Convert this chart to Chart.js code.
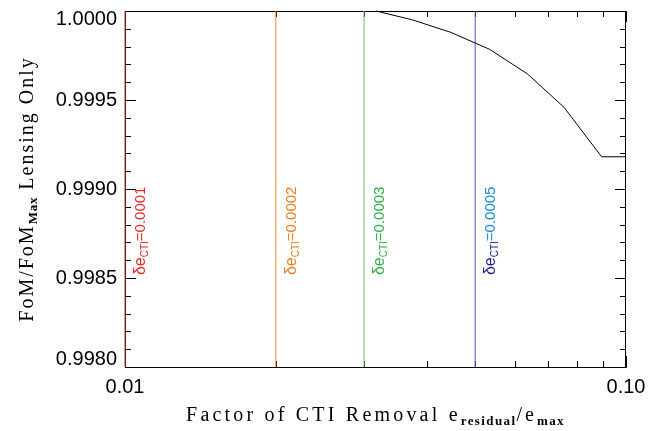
<!DOCTYPE html>
<html><head><meta charset="utf-8">
<script src="https://cdn.jsdelivr.net/npm/chart.js@4/dist/chart.umd.min.js"></script>
<style>html,body{margin:0;padding:0;background:#fff}#wrap{width:656px;height:431px}</style>
</head><body><div id="wrap"><canvas id="c" width="656" height="431"></canvas></div>
<script>
// ---- data ----
const curveX = [0.0317, 0.0375, 0.0447, 0.0534, 0.0636, 0.0752, 0.0894, 0.1000];
const curveY = [1.00000, 0.99995, 0.99988, 0.999785, 0.999646, 0.999459, 0.999181, 0.999181];
const ctiX = [0.01, 0.02, 0.03, 0.05];
const ctiValues = ['0.0001', '0.0002', '0.0003', '0.0005'];
const xRange = [0.01, 0.10];
const yRange = [0.9980, 1.0000];
const xTickValues = [0.01, 0.02, 0.03, 0.04, 0.05, 0.06, 0.07, 0.08, 0.09, 0.10];
const xTickLabels = ['0.01', '', '', '', '', '', '', '', '', '0.10'];
const yTickValues = [0.9980, 0.9981, 0.9982, 0.9983, 0.9984, 0.9985, 0.9986, 0.9987, 0.9988, 0.9989,
                     0.9990, 0.9991, 0.9992, 0.9993, 0.9994, 0.9995, 0.9996, 0.9997, 0.9998, 0.9999, 1.0000];
const yTickLabels = ['0.9980', '', '', '', '', '0.9985', '', '', '', '',
                     '0.9990', '', '', '', '', '0.9995', '', '', '', '', '1.0000'];

// ---- styles ----
const ctiLineColors = ['#c23b3b', '#f0892e', '#6cc272', '#5656c4'];
const ctiNameColors = ['#e42a2a', '#f07c22', '#2fae4a', '#1c1c8e'];
const ctiValueColors = ['#e42a2a', '#f07c22', '#2fae4a', '#1a8ad6'];
const serif = '"Liberation Serif", "DejaVu Serif", serif';
const sans = '"Liberation Sans", Arial, sans-serif';

function richWidth(ctx, parts) {
  let w = 0;
  for (const p of parts) { ctx.font = p.font; ctx.letterSpacing = p.ls || '0px'; w += ctx.measureText(p.text).width; }
  ctx.letterSpacing = '0px';
  return w;
}
function drawRich(ctx, parts, x, y) {
  let cx = x;
  for (const p of parts) {
    ctx.font = p.font; ctx.fillStyle = p.color; ctx.letterSpacing = p.ls || '0px';
    ctx.fillText(p.text, cx, y + (p.dy || 0));
    cx += ctx.measureText(p.text).width;
  }
  ctx.letterSpacing = '0px';
}

const framePlugin = {
  id: 'frame',
  beforeDatasetsDraw(chart) {
    const ctx = chart.ctx, a = chart.chartArea;
    const xs = chart.scales.x, ys = chart.scales.y;
    ctx.save();
    ctx.strokeStyle = '#000'; ctx.lineWidth = 1;
    ctx.beginPath();
    ctx.moveTo(a.left, a.top + 0.5); ctx.lineTo(a.right, a.top + 0.5);
    ctx.moveTo(a.right - 0.5, a.top); ctx.lineTo(a.right - 0.5, a.bottom);
    ctx.stroke();
    ctx.beginPath();
    yTickValues.forEach((v, i) => {
      const p = Math.round(ys.getPixelForValue(v)) + 0.5;
      const len = yTickLabels[i] ? 11 : 6;
      ctx.moveTo(a.left, p); ctx.lineTo(a.left + len, p);
      ctx.moveTo(a.right, p); ctx.lineTo(a.right - len, p);
    });
    xTickValues.forEach((v, i) => {
      const p = Math.round(xs.getPixelForValue(v)) + 0.5;
      const len = xTickLabels[i] ? 11 : 6;
      ctx.moveTo(p, a.bottom); ctx.lineTo(p, a.bottom - len);
      ctx.moveTo(p, a.top); ctx.lineTo(p, a.top + len);
    });
    ctx.stroke();
    ctx.restore();
  },
  afterDraw(chart) {
    const ctx = chart.ctx, a = chart.chartArea;
    const xs = chart.scales.x, ys = chart.scales.y;
    ctx.save();
    ctx.textBaseline = 'alphabetic'; ctx.textAlign = 'left';
    // vertical line labels
    ctiX.forEach((v, i) => {
      const px = xs.getPixelForValue(v);
      const parts = [
        { text: 'δe', font: '16px ' + sans, color: ctiNameColors[i] },
        { text: 'CTI', font: '10px ' + sans, color: ctiNameColors[i], dy: 3 },
        { text: '=' + ctiValues[i], font: '15px ' + sans, color: ctiValueColors[i] }
      ];
      ctx.save();
      ctx.translate(px + 20, ys.getPixelForValue(0.99855) + 6);
      ctx.rotate(-Math.PI / 2);
      drawRich(ctx, parts, 0, 0);
      ctx.restore();
    });
    // x title
    const xt = [
      { text: 'Factor of CTI Removal e', font: '20px ' + serif, color: '#000', ls: '3.2px' },
      { text: 'residual', font: 'bold 13px ' + serif, color: '#000', dy: 4, ls: '1.4px' },
      { text: '/e', font: '20px ' + serif, color: '#000', ls: '3px' },
      { text: 'max', font: 'bold 13px ' + serif, color: '#000', dy: 4, ls: '1.4px' }
    ];
    const xw = richWidth(ctx, xt);
    drawRich(ctx, xt, (a.left + a.right) / 2 - xw / 2, 421);
    // y title
    const yt = [
      { text: 'FoM/FoM', font: '20px ' + serif, color: '#000', ls: '2px' },
      { text: 'Max', font: 'bold 13px ' + serif, color: '#000', dy: 4, ls: '0.8px' },
      { text: ' Lensing Only', font: '20px ' + serif, color: '#000', ls: '2px' }
    ];
    const yw = richWidth(ctx, yt);
    ctx.translate(33, (a.top + a.bottom) / 2);
    ctx.rotate(-Math.PI / 2);
    drawRich(ctx, yt, -yw / 2, 0);
    ctx.restore();
  }
};

const datasets = [{
  data: curveX.map((x, i) => ({ x, y: curveY[i] })),
  borderColor: '#000', borderWidth: 1, showLine: true, pointRadius: 0, clip: 4
}];
ctiX.forEach((x, i) => {
  datasets.push({
    data: [{ x, y: yRange[0] }, { x, y: yRange[1] }],
    borderColor: ctiLineColors[i], borderWidth: 1, showLine: true, pointRadius: 0, clip: 4
  });
});

const lastY = yTickLabels.length - 1;
new Chart(document.getElementById('c'), {
  type: 'scatter',
  data: { datasets },
  options: {
    responsive: false, animation: false, devicePixelRatio: 1,
    layout: { padding: { top: 11, right: 30, left: 0, bottom: 0 } },
    plugins: { legend: { display: false }, tooltip: { enabled: false } },
    scales: {
      x: {
        type: 'logarithmic', min: xRange[0], max: xRange[1],
        afterBuildTicks: s => { s.ticks = xTickValues.map(v => ({ value: v })); },
        afterFit: s => { s.height = 64; },
        grid: { display: false, drawTicks: false },
        border: { display: true, color: '#000', width: 1 },
        ticks: {
          autoSkip: false, maxRotation: 0, minRotation: 0, padding: 10, color: '#000',
          font: { family: sans, size: 20, lineHeight: 1 },
          callback: (v, i) => xTickLabels[i]
        }
      },
      y: {
        type: 'linear', min: yRange[0], max: yRange[1],
        afterBuildTicks: s => { s.ticks = yTickValues.map(v => ({ value: v })); },
        afterFit: s => { s.width = 125; s.paddingTop = 0; s.paddingBottom = 0; },
        grid: { display: false, drawTicks: false },
        border: { display: true, color: '#000', width: 1 },
        ticks: {
          autoSkip: false, padding: 8, color: '#000',
          font: { family: sans, size: 20, lineHeight: 0.8 },
          callback: (v, i) => i === lastY ? ['', yTickLabels[i]] : (i === 0 ? [yTickLabels[i], ''] : yTickLabels[i])
        }
      }
    }
  },
  plugins: [framePlugin]
});
</script></body></html>
